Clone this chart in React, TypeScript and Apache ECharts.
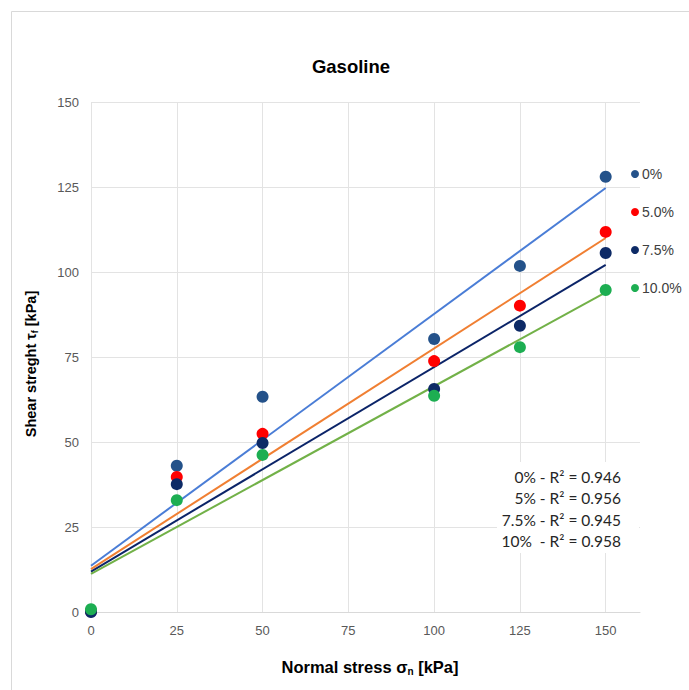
import React, { useEffect, useRef } from "react";
import * as echarts from "echarts";

const seriesNames = ["0%", "5.0%", "7.5%", "10.0%"];
const xValues = [0, 25, 50, 100, 125, 150];
const s0 = [0.2, 43.0, 63.3, 80.3, 101.8, 128.0];
const s5 = [0.2, 39.7, 52.4, 73.8, 90.1, 111.8];
const s75 = [0.0, 37.6, 49.7, 65.6, 84.2, 105.6];
const s10 = [0.8, 32.9, 46.2, 63.6, 77.9, 94.7];
const pointColors = ["#24528A", "#FF0000", "#0D2A66", "#1DAE52"];
const trendColors = ["#4A7DD6", "#F07F32", "#0B2468", "#72B148"];
const trendX = [0, 150];
const trendStart = [13.6, 12.6, 11.9, 11.2];
const trendEnd = [124.7, 110.0, 102.1, 94.0];
const xTicks = { min: 0, max: 160, interval: 25 };
const yTicks = { min: 0, max: 150, interval: 25 };
const r2Lines = ["0% - R² = 0.946", "5% - R² = 0.956", "7.5% - R² = 0.945", "10%  - R² = 0.958"];

export default function App() {
  const ref = useRef<HTMLDivElement>(null);
  useEffect(() => {
    document.body.style.margin = "0";
    const chart = echarts.init(ref.current!, null, { renderer: "svg" });
    const all = [s0, s5, s75, s10];
    const scatter = all.map((vals, i) => ({
      name: seriesNames[i],
      type: "scatter",
      symbolSize: 12,
      itemStyle: { color: pointColors[i], opacity: 1 },
      data: xValues.map((x, j) => [x, vals[j]]),
      z: 5,
    }));
    const trends = trendStart.map((a, i) => ({
      name: "trend" + i,
      type: "line",
      showSymbol: false,
      symbol: "none",
      lineStyle: { color: trendColors[i], width: 2 },
      data: [
        [trendX[0], a],
        [trendX[1], trendEnd[i]],
      ],
      z: 3,
    }));
    chart.setOption({
      animation: false,
      backgroundColor: "#ffffff",
      title: {
        text: "Gasoline",
        left: 346,
        textAlign: "center",
        top: 52,
        textStyle: { fontFamily: "Liberation Sans, Arial", fontSize: 18.5, fontWeight: "bold", color: "#000" },
      },
      graphic: [
        {
          type: "rect",
          shape: { x: 11.5, y: 11.5, width: 700, height: 700 },
          style: { fill: "none", stroke: "#d9d9d9", lineWidth: 1 },
          silent: true,
        },
        {
          type: "rect",
          shape: { x: 497, y: 462, width: 142, height: 91 },
          style: { fill: "#ffffff" },
          silent: true,
          z: 10,
        },
        {
          type: "text",
          x: 621,
          y: 466,
          z: 11,
          style: {
            text: r2Lines.join("\n"),
            align: "right",
            fontFamily: "Lato, Noto Sans, sans-serif",
            fontSize: 15.5,
            lineHeight: 21.5,
            fill: "#262626",
          },
        },
      ],
      legend: {
        data: seriesNames,
        orient: "vertical",
        left: 626,
        top: 162,
        itemWidth: 8,
        itemHeight: 8,
        itemGap: 24,
        icon: "circle",
        textStyle: { fontFamily: "Liberation Sans, Arial", fontSize: 14, color: "#404040", padding: [0, 0, 0, -2] },
      },
      grid: { left: 91, right: 49, top: 102, bottom: 78 },
      xAxis: {
        type: "value",
        ...xTicks,
        name: "Normal stress σ{sub|n} [kPa]",
        nameLocation: "middle",
        nameGap: 45,
        nameTextStyle: {
          fontFamily: "Liberation Sans, Arial",
          fontSize: 16.5,
          fontWeight: "bold",
          color: "#000",
          padding: [0, 0, 0, 9],
          rich: { sub: { fontSize: 10, fontWeight: "bold", verticalAlign: "bottom", padding: [9, 0, 0, 0] } },
        },
        axisLine: { show: true, lineStyle: { color: "#d9d9d9" } },
        axisTick: { show: false },
        axisLabel: { color: "#595959", fontSize: 13, fontFamily: "Liberation Sans, Arial", margin: 12, showMaxLabel: false },
        splitLine: { show: true, showMaxLine: false, lineStyle: { color: "#e3e3e3" } },
      },
      yAxis: {
        type: "value",
        ...yTicks,
        name: "Shear streght τ{sub|f} [kPa]",
        nameLocation: "middle",
        nameGap: 52,
        nameRotate: 90,
        nameTextStyle: {
          fontFamily: "Liberation Sans, Arial",
          fontSize: 14.5,
          fontWeight: "bold",
          color: "#000",
          padding: [0, 14, 0, 0],
          rich: { sub: { fontSize: 9, fontWeight: "bold", verticalAlign: "bottom", padding: [8, 0, 0, 0] } },
        },
        axisLine: { show: false },
        axisTick: { show: false },
        axisLabel: { color: "#595959", fontSize: 13, fontFamily: "Liberation Sans, Arial", margin: 12 },
        splitLine: { show: true, lineStyle: { color: "#e3e3e3" } },
      },
      series: [...trends, ...scatter],
    });
    return () => chart.dispose();
  }, []);
  return <div ref={ref} style={{ width: 689, height: 690 }} />;
}
